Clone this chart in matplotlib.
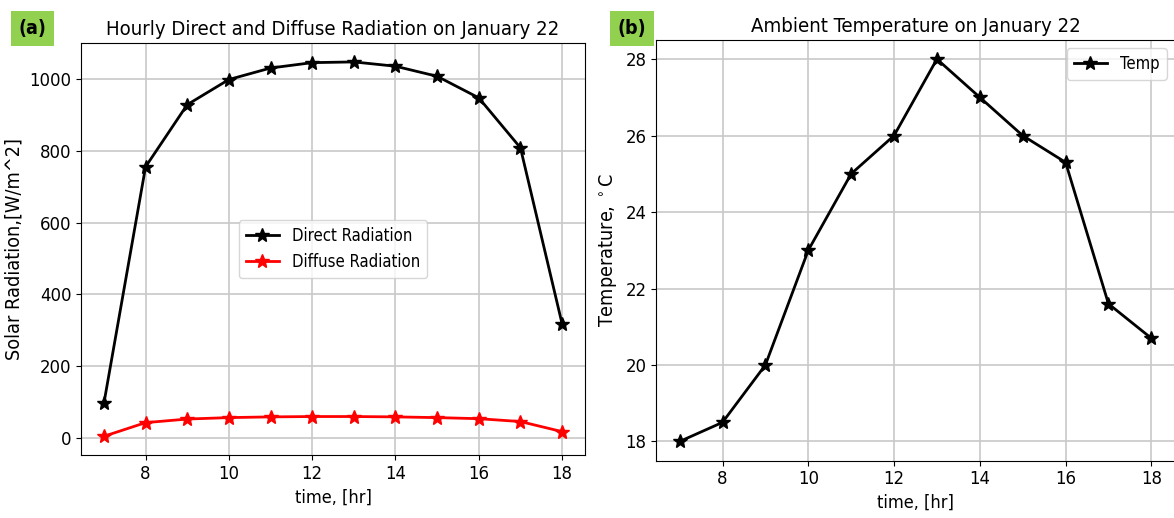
import numpy as np
import matplotlib.pyplot as plt

# hourly data for January 22
hours = [7, 8, 9, 10, 11, 12, 13, 14, 15, 16, 17, 18]
direct_rad = [97, 755, 928, 998, 1030, 1045, 1047, 1035, 1007, 947, 808, 318]
diffuse_rad = [5, 43, 53, 57, 59, 60, 60, 59, 57, 54, 46, 18]
temp = [18, 18.5, 20, 23, 25, 26, 28, 27, 26, 25.3, 21.6, 20.7]

plt.rcParams['font.family'] = ['DejaVu Sans']
plt.rcParams['font.stretch'] = 'condensed'
tick_fs = 13.2
title_fs = 14.6
ylab_fs = 14.2
xlab_fs = 13
leg_fs = 12

fig = plt.figure(figsize=(11.74, 5.18), dpi=100)

# (a) radiation
ax1 = fig.add_axes([0.069, 0.1216, 0.4293, 0.795])
ax1.plot(hours, direct_rad, c='k', marker='*', markersize=10, linewidth=2, label='Direct Radiation')
ax1.plot(hours, diffuse_rad, c='r', marker='*', markersize=10, linewidth=2, label='Diffuse Radiation')
ax1.grid(True, color='#c8c8c8', linewidth=1.2)
ax1.set_xticks([8, 10, 12, 14, 16, 18])
ax1.set_yticks([0, 200, 400, 600, 800, 1000])
ax1.tick_params(labelsize=tick_fs)
ax1.set_xlabel('time, [hr]', fontsize=xlab_fs)
ax1.set_ylabel('Solar Radiation,[W/m^2]', fontsize=ylab_fs)
ax1.set_title('Hourly Direct and Diffuse Radiation on January 22', fontsize=title_fs)
ax1.legend(loc='center', fontsize=leg_fs)

# (b) temperature
ax2 = fig.add_axes([0.5588, 0.1108, 0.442, 0.812])
ax2.plot(hours, temp, c='k', marker='*', markersize=10, linewidth=2, label='Temp')
ax2.grid(True, color='#c8c8c8', linewidth=1.2)
ax2.set_xticks([8, 10, 12, 14, 16, 18])
ax2.set_yticks([18, 20, 22, 24, 26, 28])
ax2.tick_params(labelsize=tick_fs)
ax2.set_xlabel('time, [hr]', fontsize=xlab_fs)
ax2.set_ylabel('Temperature, $^\\circ$C', fontsize=ylab_fs)
ax2.set_title('Ambient Temperature on January 22', fontsize=title_fs)
ax2.legend(loc='upper right', fontsize=leg_fs)

# panel tags
for xt, tag in [(0.0275, '(a)'), (0.5385, '(b)')]:
    fig.text(xt, 0.945, tag, fontsize=14, fontweight='bold', ha='center', va='center',
             bbox=dict(boxstyle='square,pad=0.4', fc='#92d050', ec='none'))

fig.savefig('out.png', dpi=100)
